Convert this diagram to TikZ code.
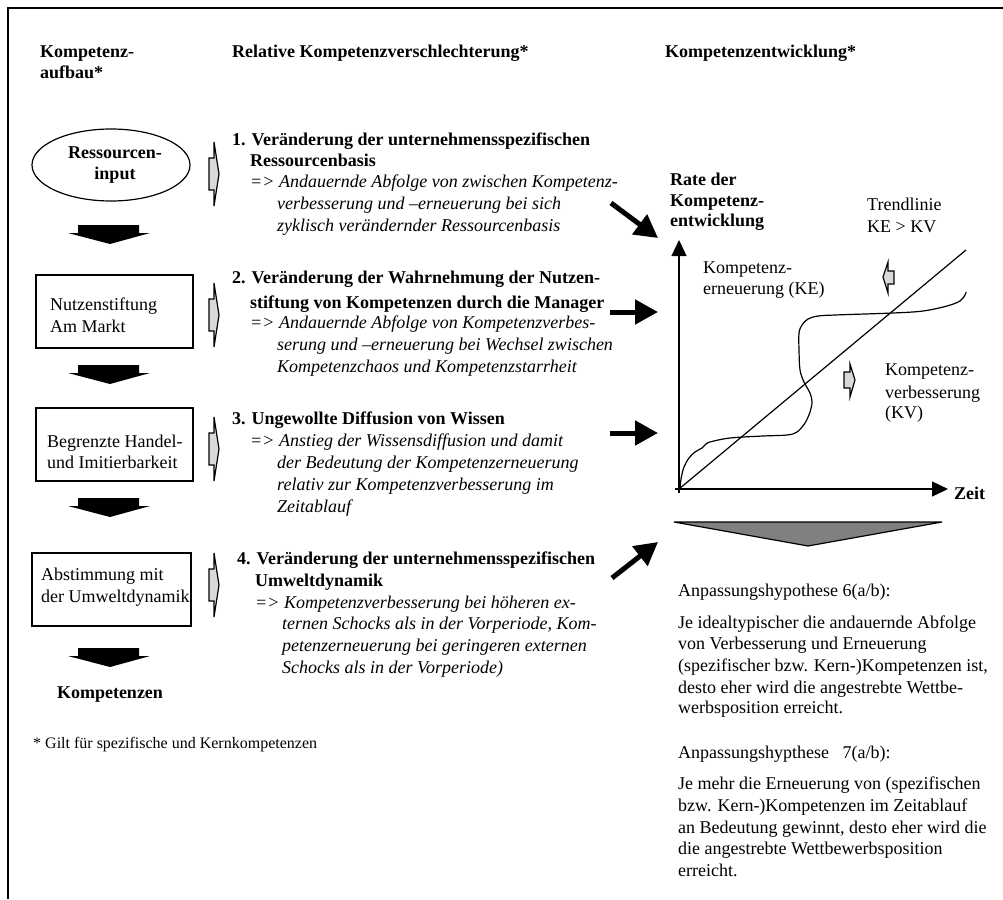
\documentclass[tikz,border=0pt]{standalone}
\usepackage{fontspec}
\setmainfont{Liberation Serif}
\usetikzlibrary{shapes.geometric,arrows.meta}
\definecolor{lightg}{HTML}{D9D9D9}
\definecolor{midg}{HTML}{808080}
\begin{document}
\begin{tikzpicture}[x=1pt,y=-1pt,
  t/.style={anchor=base west, inner sep=0pt, font=\fontsize{18}{21.5}\selectfont},
  tb/.style={t, font=\fontsize{18}{21.5}\selectfont\bfseries},
  ti/.style={t, font=\fontsize{18}{21.5}\selectfont\itshape},
  small/.style={t, font=\fontsize{16}{19}\selectfont},
  stage/.style={draw, line width=1.2pt, minimum width=157pt, minimum height=73pt, inner sep=0pt},
  bigarrow/.style={line width=5pt, -{Triangle[length=23pt,width=24pt]}},
  axis/.style={line width=1.3pt, -{Triangle[length=16pt,width=15pt]}},
  thin/.style={line width=1.2pt}]
\useasboundingbox (0,0) rectangle (1003,899);

% frame
\draw[line width=1.6pt] (8,899) -- (8,8) -- (1003,8);

% column headings
\node[tb] (h1a) at (40,57) {Kompetenz-};
\node[tb] (h1b) at (40,78) {aufbau*};
\node[tb] (h2) at (232,57) {Relative Kompetenzverschlechterung*};
\node[tb] (h3) at (665,57) {Kompetenzentwicklung*};

% left column: competence building
\node[draw, ellipse, thin, minimum width=158pt, minimum height=72pt, inner sep=0pt,
      align=center, font=\fontsize{18}{21}\selectfont\bfseries] (res) at (111,165)
      {\hspace*{8pt}Ressourcen-\\\hspace*{8pt}input};
\node[stage] (box1) at (114.5,311.5) {};
\node[t] (b1a) at (50,310) {Nutzenstiftung};
\node[t] (b1b) at (50,332) {Am Markt};
\node[stage] (box2) at (114.5,444.5) {};
\node[t] (b2a) at (47,447) {Begrenzte Handel-};
\node[t] (b2b) at (47,468) {und Imitierbarkeit};
\node[stage, minimum width=159pt] (box3) at (111.5,589.5) {};
\node[t] (b3a) at (41,580) {Abstimmung mit};
\node[t] (b3b) at (41,602) {der Umweltdynamik};
\node[tb, anchor=base] (komp) at (110,698) {Kompetenzen};
\node[small] (foot) at (33,748) {* Gilt für spezifische und Kernkompetenzen};

% broad black arrows between the stages
\foreach \y in {225,365,498,648}
  \fill (78,\y) -- ++(61,0) -- ++(0,8) -- ++(11,0) -- ++(-40,11) -- ++(-42,-11) -- ++(10,0) -- cycle;

% narrow grey arrows pointing to the deterioration causes
\foreach \c in {174,315,449,585}
  \filldraw[fill=lightg, thin, line join=miter] (209,\c-16) -- (214,\c-16) -- (214,\c-32) -- (219,\c)
     -- (214,\c+32) -- (214,\c+16) -- (209,\c+16) -- cycle;

% middle column: causes of relative deterioration
\node[tb] (c1a) at (232,145) {1. Veränderung der unternehmensspezifischen};
\node[tb] (c1b) at (250,166) {Ressourcenbasis};
\node[ti] (c1c) at (250,187) {=> Andauernde Abfolge von zwischen Kompetenz-};
\node[ti] (c1d) at (277,209) {verbesserung und –erneuerung bei sich};
\node[ti] (c1e) at (277,231) {zyklisch verändernder Ressourcenbasis};

\node[tb] (c2a) at (232,283) {2. Veränderung der Wahrnehmung der Nutzen-};
\node[tb] (c2b) at (250,308) {stiftung von Kompetenzen durch die Manager};
\node[ti] (c2c) at (250,328) {=> Andauernde Abfolge von Kompetenzverbes-};
\node[ti] (c2d) at (277,350) {serung und –erneuerung bei Wechsel zwischen};
\node[ti] (c2e) at (277,372) {Kompetenzchaos und Kompetenzstarrheit};

\node[tb] (c3a) at (232,424) {3. Ungewollte Diffusion von Wissen};
\node[ti] (c3b) at (250,446) {=> Anstieg der Wissensdiffusion und damit};
\node[ti] (c3c) at (277,468) {der Bedeutung der Kompetenzerneuerung};
\node[ti] (c3d) at (277,490) {relativ zur Kompetenzverbesserung im};
\node[ti] (c3e) at (277,512) {Zeitablauf};

\node[tb] (c4a) at (237,564) {4. Veränderung der unternehmensspezifischen};
\node[tb] (c4b) at (255,586) {Umweltdynamik};
\node[ti] (c4c) at (255,608) {=> Kompetenzverbesserung bei höheren ex-};
\node[ti] (c4d) at (282,629) {ternen Schocks als in der Vorperiode, Kom-};
\node[ti] (c4e) at (282,651) {petenzerneuerung bei geringeren externen};
\node[ti] (c4f) at (282,673) {Schocks als in der Vorperiode)};

% arrows into the diagram
\coordinate (s1) at (611,203); \coordinate (e1) at (658,238);
\coordinate (s2) at (610,312); \coordinate (e2) at (658,312);
\coordinate (s3) at (610,433); \coordinate (e3) at (658,433);
\coordinate (s4) at (612,578); \coordinate (e4) at (658,542);
\draw[bigarrow] (s1) -- (e1);
\draw[bigarrow] (s2) -- (e2);
\draw[bigarrow] (s3) -- (e3);
\draw[bigarrow] (s4) -- (e4);

% diagram axes
\coordinate (O) at (679,489);
\coordinate (ytop) at (679,240);
\coordinate (xend) at (948,489);
\coordinate (ylow) at (679,493);
\coordinate (xlow) at (675,489);
\draw[axis] (ylow) -- (ytop);
\draw[axis] (xlow) -- (xend);
\node[tb] (zeit) at (954,499) {Zeit};
\node[tb] (r1) at (670,185) {Rate der};
\node[tb] (r2) at (670,206) {Kompetenz-};
\node[tb] (r3) at (670,226) {entwicklung};

% trend line
\coordinate (trend) at (966,250);
\draw[thin] (O) -- (trend);

% development curve
\draw[thin, line join=round] plot[smooth, tension=0.55] coordinates {
  (680,489) (681,479) (684,467) (689,458) (695,452) (702,448) (705,445)
  (710,442) (730,438) (763,436) (787,435) (797,432) (805,423) (810,412)
  (812,402) (810,393) (804,382) (800,370) (799,350) (799,333) (802,325)
  (808,319) (818,316) (835,315) (893,313) (923,311) (947,306) (960,301)
  (965,295) (966,292)};

% labels inside the diagram
\node[t] (tr1) at (867,210) {Trendlinie};
\node[t] (tr2) at (867,232) {KE > KV};
\node[t] (ke1) at (703,273) {Kompetenz-};
\node[t] (ke2) at (703,294) {erneuerung (KE)};
\node[t] (kv1) at (885,375) {Kompetenz-};
\node[t] (kv2) at (885,398) {verbesserung};
\node[t] (kv3) at (885,418) {(KV)};

% small grey arrows in the diagram
\filldraw[fill=lightg, thin] (894,271) -- (888,271) -- (888,262) -- (883,277) -- (888,293)
  -- (888,284) -- (894,284) -- cycle;
\filldraw[fill=lightg, thin] (844,372) -- (850,372) -- (850,364) -- (855,380) -- (850,397)
  -- (850,388) -- (844,388) -- cycle;

% grey arrow under the diagram
\filldraw[fill=midg, thin, line join=miter] (674,522) -- (942,522) -- (808,546) -- cycle;

% hypotheses
\node[t] (p6) at (678,596) {Anpassungshypothese 6(a/b):};
\node[t] (p6a) at (678,628) {Je idealtypischer die andauernde Abfolge};
\node[t] (p6b) at (678,649) {von Verbesserung und Erneuerung};
\node[t] (p6c) at (678,671) {(spezifischer bzw. Kern-)Kompetenzen ist,};
\node[t] (p6d) at (678,693) {desto eher wird die angestrebte Wettbe-};
\node[t] (p6e) at (678,713) {werbsposition erreicht.};
\node[t] (p7) at (678,758) {Anpassungshypthese\hspace{0.5em} 7(a/b):};
\node[t] (p7a) at (678,789) {Je mehr die Erneuerung von (spezifischen};
\node[t] (p7b) at (678,811) {bzw. Kern-)Kompetenzen im Zeitablauf};
\node[t] (p7c) at (678,833) {an Bedeutung gewinnt, desto eher wird die};
\node[t] (p7d) at (678,854) {die angestrebte Wettbewerbsposition};
\node[t] (p7e) at (678,876) {erreicht.};
\end{tikzpicture}
\end{document}
